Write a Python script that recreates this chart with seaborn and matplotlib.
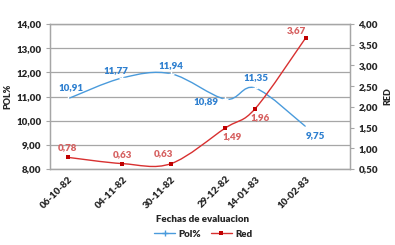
import matplotlib
matplotlib.use("Agg")
import matplotlib.pyplot as plt
import matplotlib.dates as mdates
from matplotlib.path import Path
from matplotlib.patches import PathPatch
from matplotlib.lines import Line2D
import seaborn as sns
import pandas as pd
import numpy as np

# === Data ===
fechas = ["06-10-82", "04-11-82", "30-11-82", "29-12-82", "14-01-83", "10-02-83"]
pol = [10.91, 11.77, 11.94, 10.89, 11.35, 9.75]
red = [0.78, 0.63, 0.63, 1.49, 1.96, 3.67]
pol_ticks = [8, 9, 10, 11, 12, 13, 14]
red_ticks = [0.5, 1.0, 1.5, 2.0, 2.5, 3.0, 3.5, 4.0]

BLUE = "#4A9BDC"
BLUE_TXT = "#2F80D0"
RED = "#D83030"
RED_MK = "#C00000"
RED_TXT = "#D66060"
GRID = "#A6A6A6"
W = "heavy"

df = pd.DataFrame({
    "fecha": pd.to_datetime(fechas, format="%d-%m-%y"),
    "pol": pol,
    "red": red,
})
df["x"] = mdates.date2num(df["fecha"])

sns.set_style("white")
plt.rcParams["font.family"] = ["Lato", "DejaVu Sans"]


def comma(v):
    return f"{v:.2f}".replace(".", ",")


def smooth_path(x, y):
    # Excel-like smoothed line (bezier through the data points)
    pts = np.column_stack([x, y]).astype(float)
    n = len(pts)
    verts = [pts[0]]
    codes = [Path.MOVETO]
    for i in range(n - 1):
        p0 = pts[max(i - 1, 0)]
        p1 = pts[i]
        p2 = pts[i + 1]
        p3 = pts[min(i + 2, n - 1)]
        verts += [p1 + (p2 - p0) / 6, p2 - (p3 - p1) / 6, p2]
        codes += [Path.CURVE4] * 3
    return Path(verts, codes)


fig = plt.figure(figsize=(3.95, 2.45), dpi=100)
ax = fig.add_axes([50 / 395, 76 / 245, 300 / 395, 145 / 245])
ax2 = ax.twinx()

# === Lines ===
ax.add_patch(PathPatch(smooth_path(df["x"], df["pol"]), fill=False,
                       edgecolor=BLUE, lw=1.0, zorder=3))
sns.lineplot(data=df, x="x", y="pol", ax=ax, lw=0, marker="+", markersize=4,
             markeredgewidth=1.0, color=BLUE, zorder=4)
ax2.add_patch(PathPatch(smooth_path(df["x"], df["red"]), fill=False,
                        edgecolor=RED, lw=1.0, zorder=3))
sns.lineplot(data=df, x="x", y="red", ax=ax2, lw=0, marker="s", markersize=3,
             markeredgewidth=0, color=RED_MK, zorder=4)

# === Data labels ===
pol_off = [(3, 11), (-7, 7), (0, 8), (-19, -2), (1, 11), (10, -9)]
red_off = [(-1, 10), (0, 9), (-8, 10), (7, -9), (5, -9), (-9, 7)]
for xv, v, off in zip(df["x"], pol, pol_off):
    ax.annotate(comma(v), (xv, v), xytext=off, textcoords="offset pixels",
                ha="center", va="center", fontsize=7, fontweight=W,
                color=BLUE_TXT, zorder=5)
for xv, v, off in zip(df["x"], red, red_off):
    ax2.annotate(comma(v), (xv, v), xytext=off, textcoords="offset pixels",
                 ha="center", va="center", fontsize=7, fontweight=W,
                 color=RED_TXT, zorder=5)

# === Axes ===
ax.set_xlim(df["x"].iloc[0] - 9.7, df["x"].iloc[-1] + 23.6)
ax.set_ylim(8, 14)
ax2.set_ylim(0.5, 4.0)
ax.set_xticks(df["x"])
ax.set_xticklabels(fechas, rotation=45, ha="right", rotation_mode="anchor",
                   fontsize=7, fontweight=W)
ax.set_yticks(pol_ticks)
ax.set_yticklabels([comma(t) for t in pol_ticks], fontsize=7, fontweight=W)
ax2.set_yticks(red_ticks)
ax2.set_yticklabels([comma(t) for t in red_ticks], fontsize=7, fontweight=W)
ax.tick_params(axis="x", length=0, pad=4)
ax.tick_params(axis="y", length=3, width=0.8, color=GRID, pad=3, direction="out", left=True)
ax2.tick_params(axis="y", length=3, width=0.8, color=GRID, pad=3, direction="out", right=True)
ax.grid(axis="y", color=GRID, lw=0.9)
ax.grid(axis="x", visible=False)
for a in (ax, ax2):
    for s in a.spines.values():
        s.set_color(GRID)
        s.set_linewidth(0.9)
ax.set_xlabel("")
ax.set_ylabel("POL%", fontsize=6.5, fontweight=W, labelpad=3)
ax2.set_ylabel("RED", fontsize=6.5, fontweight=W, labelpad=4)

fig.text(203 / 395, 1 - 219 / 245, "Fechas de evaluacion", ha="center",
         va="center", fontsize=7, fontweight=W)

handles = [
    Line2D([], [], color=BLUE, lw=1.0, marker="+", markersize=4, markeredgewidth=1.0),
    Line2D([], [], color=RED, lw=1.0, marker="s", markersize=3,
           markerfacecolor=RED_MK, markeredgewidth=0),
]
fig.legend(handles, ["Pol%", "Red"], loc="center", bbox_to_anchor=(203 / 395, 1 - 234 / 245),
           ncol=2, frameon=False, prop={"size": 7, "weight": W},
           handlelength=2.2, handletextpad=0.3, columnspacing=1.0)

fig.savefig("out.png", dpi=100)
